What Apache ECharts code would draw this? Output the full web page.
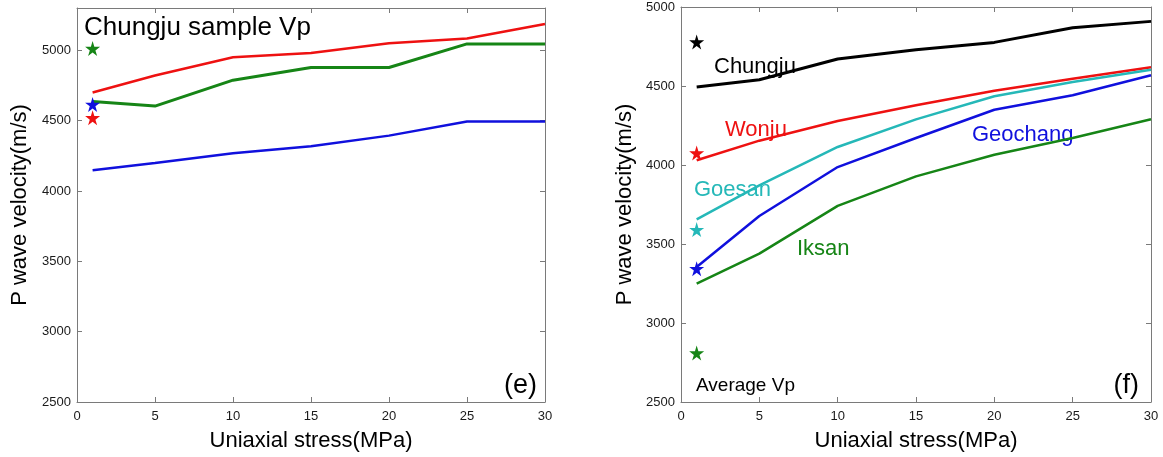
<!DOCTYPE html>
<html>
<head>
<meta charset="utf-8" />
<script src="https://cdn.jsdelivr.net/npm/echarts@6/dist/echarts.min.js"></script>
<style>
  html, body { margin: 0; padding: 0; background: #fff; }
  #chart { width: 1163px; height: 457px; }
</style>
</head>
<body>
<div id="chart"></div>
<script>
// uniaxial stress steps (MPa)
const stressX = [1, 5, 10, 15, 20, 25, 30];
const xTicks = [0, 5, 10, 15, 20, 25, 30];

// (e) Chungju sample Vp, three samples
const eRed = [4700, 4820, 4950, 4980, 5050, 5083, 5187];
const eGreen = [4635, 4603, 4787, 4877, 4877, 5045, 5045];
const eBlue = [4147, 4199, 4268, 4317, 4393, 4494, 4494];
const eStarRed = 4520;
const eStarGreen = 5012;
const eStarBlue = 4615;

// (f) average Vp per site
const sites = ["Chungju", "Wonju", "Goesan", "Geochang", "Iksan"];
const chungju = [4494, 4540, 4671, 4730, 4776, 4869, 4909];
const wonju = [4030, 4154, 4278, 4378, 4470, 4546, 4618];
const goesan = [3656, 3871, 4114, 4289, 4435, 4525, 4603];
const geochang = [3354, 3677, 3987, 4171, 4350, 4441, 4568];
const iksan = [3249, 3439, 3741, 3928, 4065, 4171, 4289];
const fStars = [4778, 4076, 3591, 3344, 2810]; // same order as sites

const RED = "#ee1111";
const GREEN = "#168516";
const BLUE = "#1010dd";
const CYAN = "#25b8b8";
const BLACK = "#000000";
const STAR = "path://M50,0 L61,35 L98,35 L68,57 L79,91 L50,70 L21,91 L32,57 L2,35 L39,35 Z";
const FONT = '"Liberation Sans", Arial, sans-serif';

function pts(ys) {
  return stressX.map((x, i) => [x, ys[i]]);
}

function lineSeries(ys, color, idx, width) {
  return {
    type: "line",
    xAxisIndex: idx,
    yAxisIndex: idx,
    data: pts(ys),
    showSymbol: false,
    symbol: "none",
    lineStyle: { color: color, width: width || 2.5 },
    silent: true,
  };
}

function starSeries(y, color, idx) {
  return {
    type: "scatter",
    xAxisIndex: idx,
    yAxisIndex: idx,
    data: [[stressX[0], y]],
    symbol: STAR,
    symbolSize: 15,
    itemStyle: { color: color, opacity: 1 },
    z: 5,
    silent: true,
  };
}

// axis with ticks pointing inward, the mirrored one carries no labels
function xAx(grid, pos) {
  return {
    gridIndex: grid,
    type: "value",
    position: pos,
    min: xTicks[0],
    max: xTicks[xTicks.length - 1],
    interval: 5,
    name: pos === "bottom" ? "Uniaxial stress(MPa)" : "",
    nameLocation: "middle",
    nameGap: 28,
    nameTextStyle: { fontFamily: FONT, fontSize: 22, color: "#000" },
    axisLine: { show: true, onZero: false, lineStyle: { color: "#7a7a7a", width: 1 } },
    axisTick: { show: true, inside: true, length: 5, lineStyle: { color: "#7a7a7a" } },
    axisLabel: {
      show: pos === "bottom",
      margin: 8,
      fontFamily: FONT,
      fontSize: 13,
      color: "#1a1a1a",
      formatter: (v) => String(v),
    },
    splitLine: { show: false },
  };
}

function yAx(grid, pos, max, gap) {
  return {
    gridIndex: grid,
    type: "value",
    position: pos,
    min: 2500,
    max: max,
    interval: 500,
    name: pos === "left" ? "P wave velocity(m/s)" : "",
    nameLocation: "middle",
    nameGap: gap,
    nameTextStyle: { fontFamily: FONT, fontSize: 22, color: "#000" },
    axisLine: { show: true, onZero: false, lineStyle: { color: "#7a7a7a", width: 1 } },
    axisTick: { show: true, inside: true, length: 5, lineStyle: { color: "#7a7a7a" } },
    axisLabel: {
      show: pos === "left",
      margin: 6,
      fontFamily: FONT,
      fontSize: 13,
      color: "#1a1a1a",
      showMaxLabel: max === 5000,
      formatter: (v) => String(v),
    },
    splitLine: { show: false },
  };
}

function label(text, x, y, color, size, align) {
  return {
    type: "text",
    x: x,
    y: y,
    silent: true,
    style: {
      text: text,
      fill: color,
      font: "normal " + size + "px " + FONT,
      textAlign: align || "left",
      textVerticalAlign: "middle",
    },
  };
}

let myChart = echarts.init(document.getElementById("chart"));
let option = {
  animation: false,
  backgroundColor: "#fff",
  grid: [
    { left: 77, top: 8, width: 468, height: 395 },
    { left: 681, top: 7, width: 470, height: 396 },
  ],
  xAxis: [xAx(0, "bottom"), xAx(0, "top"), xAx(1, "bottom"), xAx(1, "top")],
  yAxis: [
    yAx(0, "left", 5300, 46),
    yAx(0, "right", 5300, 46),
    yAx(1, "left", 5000, 45),
    yAx(1, "right", 5000, 45),
  ],
  series: [
    lineSeries(eRed, RED, 0, 2.5),
    lineSeries(eGreen, GREEN, 0, 3),
    lineSeries(eBlue, BLUE, 0, 2.5),
    starSeries(eStarGreen, GREEN, 0),
    starSeries(eStarRed, RED, 0),
    starSeries(eStarBlue, BLUE, 0),

    lineSeries(chungju, BLACK, 2, 3),
    lineSeries(wonju, RED, 2, 2.5),
    lineSeries(goesan, CYAN, 2, 2.5),
    lineSeries(geochang, BLUE, 2, 2.5),
    lineSeries(iksan, GREEN, 2, 2.5),
    starSeries(fStars[0], BLACK, 2),
    starSeries(fStars[1], RED, 2),
    starSeries(fStars[2], CYAN, 2),
    starSeries(fStars[3], BLUE, 2),
    starSeries(fStars[4], GREEN, 2),
  ],
  graphic: [
    label("Chungju sample Vp", 84, 28, "#000", 26),
    label("(e)", 537, 386, "#000", 27, "right"),
    label(sites[0], 714, 67, BLACK, 22),
    label(sites[1], 725, 130, RED, 22),
    label(sites[2], 694, 190, CYAN, 22),
    label(sites[3], 972, 135, BLUE, 22),
    label(sites[4], 797, 249, GREEN, 22),
    label("Average Vp", 696, 386, "#000", 19),
    label("(f)", 1139, 386, "#000", 27, "right"),
  ],
};
myChart.setOption(option);
</script>
</body>
</html>
